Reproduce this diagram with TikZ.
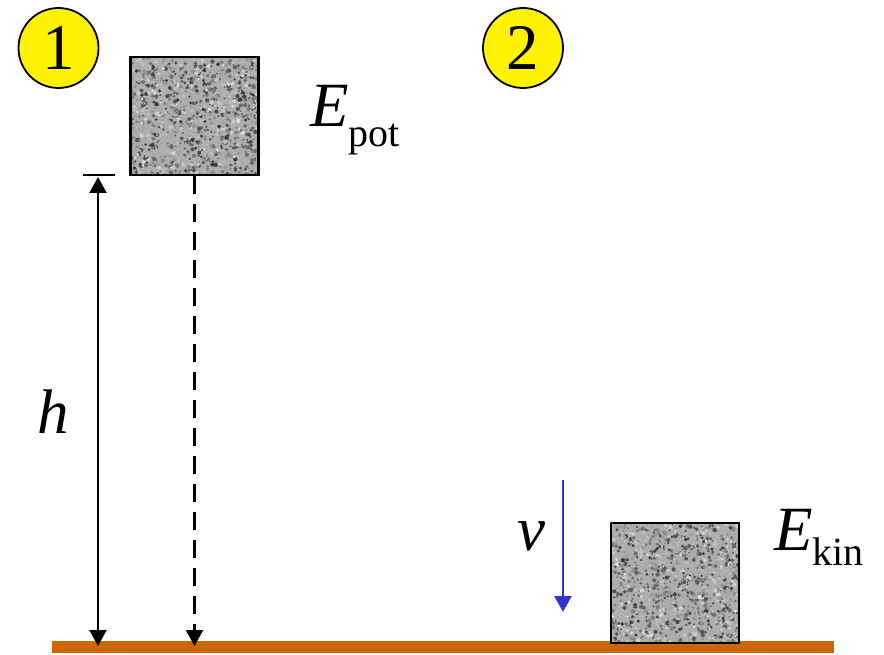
\documentclass[tikz,border=0pt]{standalone}
\usepackage{fontspec}
\setmainfont{Liberation Serif}
\newfontfamily\serifface{Liberation Serif}
\usepackage{tikz}
\usetikzlibrary{arrows.meta,calc}
\definecolor{floorbrown}{RGB}{204,102,0}
\definecolor{speedblue}{RGB}{51,51,210}
\newcommand{\energy}[2][20pt]{\textit{E}\raisebox{-#1}{\fontsize{40}{40}\selectfont #2}}

\begin{document}
\begin{tikzpicture}[x=1pt,y=-1pt,
  stage/.style={circle,draw,line width=1.8pt,fill=yellow,minimum size=80pt,
                inner sep=0pt,font=\serifface\fontsize{65}{65}\selectfont},
  granite/.style={draw=black,line width=2.2pt,minimum width=128pt,minimum height=118pt,
                  inner sep=0pt,fill=black!32,
                  path picture={\foreach \k in {1,...,1400}{
                    \pgfmathsetmacro\gx{rnd*132}\pgfmathsetmacro\gy{rnd*124}
                    \pgfmathsetmacro\gs{0.7+rnd*1.5}\pgfmathtruncatemacro\gt{12+rnd*68}
                    \fill[black!\gt] ($(path picture bounding box.south west)+(\gx pt,\gy pt)$)
                      circle (\gs pt);}}},
  lbl/.style={inner sep=0pt,font=\serifface\fontsize{63}{70}\selectfont},
  fallarrow/.style={-{Triangle[width=17pt,length=16pt]},line width=2.2pt}]
\useasboundingbox (0,0) rectangle (884,655);
\pgfmathsetseed{4711}
% stages
\node[stage] (s1) at (58.5,48) {1};
\node[stage] (s2) at (523,48) {2};
% floor and blocks
\node[fill=floorbrown,minimum width=782pt,minimum height=12pt,inner sep=0pt,
      anchor=north west] (ground) at (52,641) {};
\node[granite] (blk1) at (194.5,116) {};
\node[granite,minimum height=120pt] (blk2) at (675,583) {};
% labels
\node[lbl,anchor=base west] (epot) at (310,127) {\energy{pot}};
\node[lbl,anchor=base west] (ekin) at (774,550) {\energy[15pt]{kin}};
\node[lbl,anchor=base west] (hlbl) at (37,433) {\textit{h}};
\node[lbl,anchor=base west] (vlbl) at (517,550) {\textit{v}};
% height
\coordinate (htop) at (98,175);
\draw[line width=1.8pt] ([xshift=-15pt]htop) -- ([xshift=17pt]htop);
\draw[fallarrow,{Triangle[width=17pt,length=16pt]}-{Triangle[width=17pt,length=16pt]}]
  ([yshift=-2pt]htop) -- ([yshift=-5pt]htop |- ground.north);
\draw[fallarrow,dash pattern=on 18pt off 10pt] (blk1.south)
  -- ([yshift=-5pt]blk1.south |- ground.north);
% speed
\coordinate (vtop) at (563,480);
\coordinate (vend) at (563,612);
\draw[fallarrow,speedblue,line width=2.6pt] (vtop) -- (vend);
\end{tikzpicture}
\end{document}
